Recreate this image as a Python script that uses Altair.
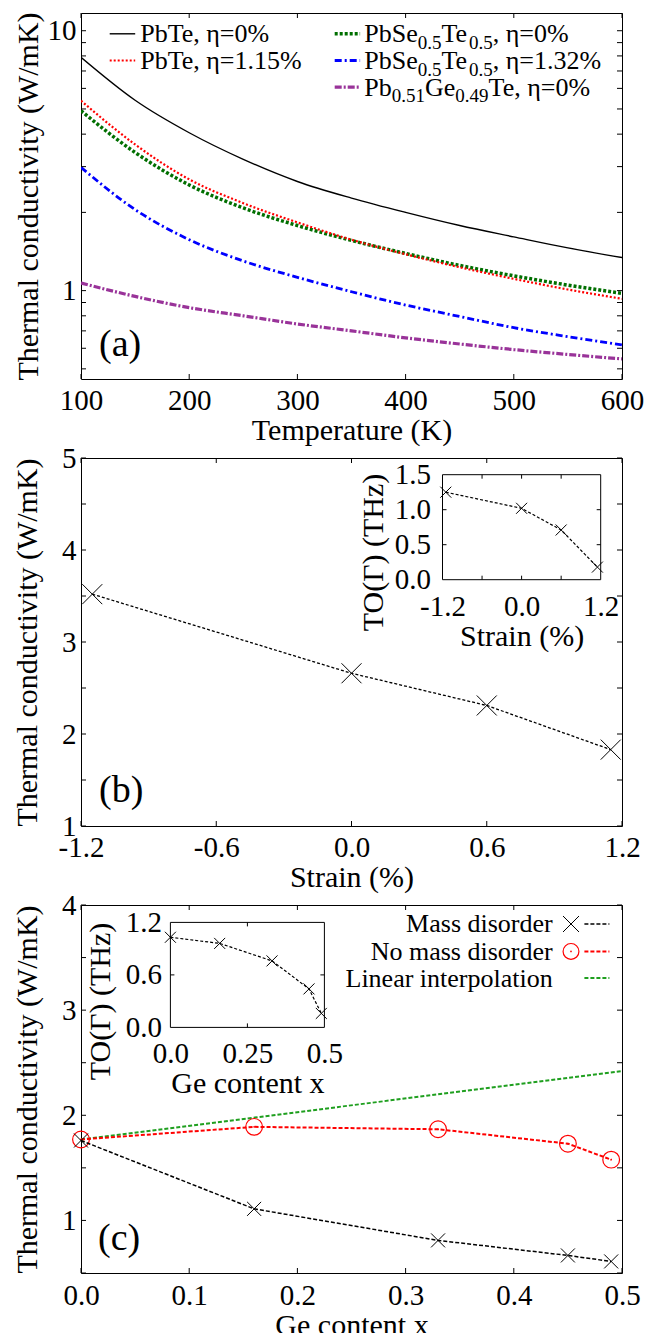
import altair as alt
import pandas as pd

FONT = "Liberation Serif, Times New Roman, Tinos, DejaVu Serif, serif"

# ---------------- data: panel (a) ----------------
temps = [100, 150, 200, 250, 300, 350, 400, 450, 500, 550, 600]
k_pbte_0 = [7.9, 5.4, 4.05, 3.2, 2.63, 2.27, 2.0, 1.78, 1.61, 1.46, 1.34]
k_pbte_115 = [5.38, 3.65, 2.68, 2.17, 1.83, 1.57, 1.38, 1.23, 1.11, 1.01, 0.93]
k_pbsete_0 = [4.92, 3.4, 2.55, 2.08, 1.78, 1.56, 1.39, 1.25, 1.14, 1.05, 0.976]
k_pbsete_132 = [2.98, 2.05, 1.57, 1.3, 1.125, 0.99, 0.88, 0.795, 0.72, 0.665, 0.618]
k_pbgete_0 = [1.07, 0.95, 0.86, 0.8, 0.744, 0.70, 0.658, 0.623, 0.593, 0.568, 0.546]

# ---------------- data: panel (b) ----------------
strain = [-1.15, 0.0, 0.6, 1.15]
k_strain = [3.52, 2.66, 2.31, 1.83]
to_strain = [1.25, 1.02, 0.71, 0.18]

# ---------------- data: panel (c) ----------------
ge_x = [0.0, 0.16, 0.33, 0.45, 0.49]
k_mass = [1.76, 1.11, 0.81, 0.667, 0.61]
k_nomass = [1.77, 1.89, 1.867, 1.73, 1.578]
lin_x = [0.0, 0.5]
k_lin = [1.77, 2.42]
to_ge = [1.03, 0.96, 0.76, 0.44, 0.16]

# tick positions
a_xticks = [100, 200, 300, 400, 500, 600]
a_yticks = [0.5, 0.6, 0.7, 0.8, 0.9, 1, 2, 3, 4, 5, 6, 7, 8, 9, 10]
b_xticks = [-1.2, -0.6, 0.0, 0.6, 1.2]
b_yticks = [1, 1.5, 2, 2.5, 3, 3.5, 4, 4.5, 5]
bi_xticks = [-0.6, 0.0, 0.6]
bi_yticks = [0.5, 1.0]
c_xticks = [0.0, 0.1, 0.2, 0.3, 0.4, 0.5]
c_yticks = [0.5, 1, 1.5, 2, 2.5, 3, 3.5, 4]
ci_xticks = [0.25]
ci_yticks = [0.6]

W = 541
HA, HB, HC = 366, 368, 368
TL = 5
XPATH = "M-1,-1L1,1M-1,1L1,-1"
ONE = pd.DataFrame({"k": [0]})
MINUS = "replace(format(datum.value, '.1f'), '\u2212', '-')"

TW = {'P': 556, 'b': 500, 'T': 611, 'e': 444, 'S': 556, 'G': 722, ',': 250,
      ' ': 250, '=': 564, '%': 833, '.': 250}


def tw(s, size):
    return sum(TW.get(c, 500) for c in s) / 1000.0 * size


def txt(s, x, y, size, align="left", baseline="alphabetic", color="black"):
    return alt.Chart(ONE).mark_text(text=s, font=FONT, fontSize=size, align=align,
                                    baseline=baseline, color=color).encode(
        x=alt.value(x), y=alt.value(y))


def rich(pieces, x, y, size=26, sub=19, drop=6.5):
    out = []
    for s, is_sub in pieces:
        fs = sub if is_sub else size
        out.append(txt(s, x, y + (drop if is_sub else 0), fs))
        x += tw(s, fs)
    return out


def sample(x1, x2, y, color, width, dash=None):
    kw = dict(color=color, strokeWidth=width)
    if dash:
        kw["strokeDash"] = dash
    return alt.Chart(ONE).mark_rule(**kw).encode(x=alt.value(x1), x2=alt.value(x2), y=alt.value(y))


def ticks(xvals, yvals, xsc, ysc, xax, yax, box, L=TL):
    left, right, top, bottom = box
    out = []
    dx = pd.DataFrame({"v": xvals})
    dy = pd.DataFrame({"v": yvals})
    if xvals:
        out.append(alt.Chart(dx).mark_rule(color="black", strokeWidth=1).encode(
            x=alt.X("v:Q", scale=xsc, axis=xax), y=alt.value(bottom), y2=alt.value(bottom - L)))
        out.append(alt.Chart(dx).mark_rule(color="black", strokeWidth=1).encode(
            x=alt.X("v:Q", scale=xsc, axis=xax), y=alt.value(top), y2=alt.value(top + L)))
    if yvals:
        out.append(alt.Chart(dy).mark_rule(color="black", strokeWidth=1).encode(
            y=alt.Y("v:Q", scale=ysc, axis=yax), x=alt.value(left), x2=alt.value(left + L)))
        out.append(alt.Chart(dy).mark_rule(color="black", strokeWidth=1).encode(
            y=alt.Y("v:Q", scale=ysc, axis=yax), x=alt.value(right), x2=alt.value(right - L)))
    return out


def line(xs, ys, xsc, ysc, xax, yax, **mk):
    d = pd.DataFrame({"x": xs, "y": ys})
    return alt.Chart(d).mark_line(**mk).encode(
        x=alt.X("x:Q", scale=xsc, axis=xax), y=alt.Y("y:Q", scale=ysc, axis=yax))


def pts(xs, ys, xsc, ysc, xax, yax, **mk):
    d = pd.DataFrame({"x": xs, "y": ys})
    return alt.Chart(d).mark_point(opacity=1, **mk).encode(
        x=alt.X("x:Q", scale=xsc, axis=xax), y=alt.Y("y:Q", scale=ysc, axis=yax))


def frame(xd, yd, xsc, ysc, xax, yax):
    d = pd.DataFrame({"x0": [xd[0]], "x1": [xd[1]], "y0": [yd[0]], "y1": [yd[1]]})
    return alt.Chart(d).mark_rect(fillOpacity=0, stroke="black", strokeWidth=1).encode(
        x=alt.X("x0:Q", scale=xsc, axis=xax), x2="x1",
        y=alt.Y("y0:Q", scale=ysc, axis=yax), y2="y1")


# ================= panel (a) =================
xa = alt.Scale(domain=[100, 600], nice=False, zero=False)
ya = alt.Scale(type="log", domain=[0.457, 11.7], nice=False)
ax_xa = alt.Axis(values=a_xticks, format="d", title="Temperature (K)", ticks=False, domain=False,
                 grid=False, labelPadding=7, titlePadding=0, labelFlush=False)
ax_ya = alt.Axis(values=[1, 10], format="d", title="Thermal conductivity (W/mK)", ticks=False,
                 domain=False, grid=False, labelPadding=5, titlePadding=4, labelFlush=False)
A = (xa, ya, ax_xa, ax_ya)

a_layers = [
    line(temps, k_pbgete_0, *A, color="#993399", strokeWidth=3.2,
         strokeDash=[7, 2, 2, 2], interpolate="monotone", clip=True),
    line(temps, k_pbsete_132, *A, color="#0000ff", strokeWidth=2.8,
         strokeDash=[7, 3, 2, 3], interpolate="monotone", clip=True),
    line(temps, k_pbsete_0, *A, color="#006f00", strokeWidth=3.5,
         strokeDash=[3, 2], interpolate="monotone", clip=True),
    line(temps, k_pbte_115, *A, color="#ff0000", strokeWidth=2.2,
         strokeDash=[2, 2], interpolate="monotone", clip=True),
    line(temps, k_pbte_0, *A, color="black", strokeWidth=1.4,
         interpolate="monotone", clip=True),
]
a_layers += ticks(a_xticks, a_yticks, *A, (0, W, 0, HA))
# legend
a_layers += [
    sample(28.7, 54.2, 20.8, "black", 1.4),
    sample(28.7, 54.2, 47.5, "#ff0000", 2.2, [2, 2]),
    sample(253.7, 279.1, 20.8, "#006f00", 3.5, [3, 2]),
    sample(253.7, 279.1, 47.5, "#0000ff", 2.8, [7, 3, 2, 3]),
    sample(253.7, 279.1, 74.2, "#993399", 3.2, [7, 2, 2, 2]),
    txt("PbTe, \u03b7=0%", 59.2, 29.3, 26),
    txt("PbTe, \u03b7=1.15%", 59.2, 56.0, 26),
]
a_layers += rich([("PbSe", 0), ("0.5", 1), ("Te", 0), ("0.5", 1), (", \u03b7=0%", 0)], 283.3, 29.3)
a_layers += rich([("PbSe", 0), ("0.5", 1), ("Te", 0), ("0.5", 1), (", \u03b7=1.32%", 0)], 283.3, 56.0)
a_layers += rich([("Pb", 0), ("0.51", 1), ("Ge", 0), ("0.49", 1), ("Te, \u03b7=0%", 0)], 283.3, 82.7)
a_layers.append(txt("(a)", 18, 332, 38, baseline="middle"))
panel_a = alt.layer(*a_layers).properties(width=W, height=HA)

# ================= panel (b) =================
xb = alt.Scale(domain=[-1.2, 1.2], nice=False, zero=False)
yb = alt.Scale(domain=[1, 5], nice=False, zero=False)
ax_xb = alt.Axis(values=b_xticks, labelExpr=MINUS, title="Strain (%)", ticks=False, domain=False,
                 grid=False, labelPadding=7, titlePadding=0, labelFlush=False)
ax_yb = alt.Axis(values=[1, 2, 3, 4, 5], format="d", title="Thermal conductivity (W/mK)", ticks=False,
                 domain=False, grid=False, labelPadding=5, titlePadding=19, labelFlush=False)
B = (xb, yb, ax_xb, ax_yb)
b_main = [
    line(strain, k_strain, *B, color="black", strokeWidth=1.3, strokeDash=[3, 2]),
    pts(strain, k_strain, *B, shape=XPATH, size=400, color="black", strokeWidth=1, filled=False),
]
b_main += ticks(b_xticks, b_yticks, *B, (0, W, 0, HB))
b_main.append(txt("(b)", 18, 333, 38, baseline="middle"))

BI = (361.5, 519.7, 16.7, 121.7)
xbi = alt.Scale(domain=[-1.2, 1.2], range=[BI[0], BI[1]], nice=False, zero=False)
ybi = alt.Scale(domain=[0, 1.5], range=[BI[3], BI[2]], nice=False, zero=False)
ax_xbi = alt.Axis(orient="bottom", offset=-(HB - BI[3]), values=[-1.2, 0.0, 1.2], labelExpr=MINUS,
                  title="Strain (%)", ticks=False, domain=False, grid=False, labelPadding=13,
                  titlePadding=0, labelFlush=False)
ax_ybi = alt.Axis(orient="left", offset=-BI[0], values=[0, 0.5, 1.0, 1.5], format=".1f",
                  title="TO(\u0393) (THz)", ticks=False, domain=False, grid=False, labelPadding=12,
                  titlePadding=6, titleY=94, labelFlush=False)
BIN = (xbi, ybi, ax_xbi, ax_ybi)
b_inset = [
    line(strain, to_strain, *BIN, color="black", strokeWidth=1.2, strokeDash=[3, 2]),
    pts(strain, to_strain, *BIN, shape=XPATH, size=121, color="black", strokeWidth=1, filled=False),
    frame([-1.2, 1.2], [0, 1.5], *BIN),
]
b_inset += ticks(bi_xticks, bi_yticks, *BIN, BI, L=4)
panel_b = alt.layer(alt.layer(*b_main), alt.layer(*b_inset)).resolve_scale(
    x="independent", y="independent").properties(width=W, height=HB)

# ================= panel (c) =================
xc = alt.Scale(domain=[0, 0.5], nice=False, zero=False)
yc = alt.Scale(domain=[0.5, 4], nice=False, zero=False)
ax_xc = alt.Axis(values=c_xticks, format=".1f", title="Ge content x", ticks=False, domain=False,
                 grid=False, labelPadding=8, titlePadding=0, labelFlush=False)
ax_yc = alt.Axis(values=[1, 2, 3, 4], format="d", title="Thermal conductivity (W/mK)", ticks=False,
                 domain=False, grid=False, labelPadding=5, titlePadding=19, labelFlush=False)
C = (xc, yc, ax_xc, ax_yc)
GREEN = "#1f9f1f"
c_main = [
    line(lin_x, k_lin, *C, color=GREEN, strokeWidth=2, strokeDash=[4, 2]),
    line(ge_x, k_nomass, *C, color="#ff0000", strokeWidth=2, strokeDash=[4, 2]),
    pts(ge_x, k_nomass, *C, shape="circle", size=280, color="#ff0000", strokeWidth=1.2, filled=False),
    pts(ge_x, k_nomass, *C, shape="circle", size=3, color="#ff0000", filled=True),
    line(ge_x, k_mass, *C, color="black", strokeWidth=1.5, strokeDash=[4, 2]),
    pts(ge_x, k_mass, *C, shape=XPATH, size=196, color="black", strokeWidth=1, filled=False),
]
c_main += ticks(c_xticks, c_yticks, *C, (0, W, 0, HC))
c_main += [
    txt("Mass disorder", 471.7, 27.4, 26, align="right"),
    txt("No mass disorder", 471.7, 54.7, 26, align="right"),
    txt("Linear interpolation", 471.7, 82.4, 26, align="right"),
    alt.Chart(ONE).mark_point(shape=XPATH, size=256, color="black", strokeWidth=1, filled=False,
                              opacity=1).encode(x=alt.value(490), y=alt.value(19)),
    alt.Chart(ONE).mark_point(shape="circle", size=250, color="#ff0000", strokeWidth=1.2, filled=False,
                              opacity=1).encode(x=alt.value(490), y=alt.value(46.4)),
    alt.Chart(ONE).mark_point(shape="circle", size=3, color="#ff0000", filled=True,
                              opacity=1).encode(x=alt.value(490), y=alt.value(46.4)),
    sample(503.4, 528.4, 19, "black", 1.5, [4, 2]),
    sample(503.4, 528.4, 46.4, "#ff0000", 2, [4, 2]),
    sample(503.4, 528.4, 73, GREEN, 2, [4, 2]),
    txt("(c)", 17, 334, 38, baseline="middle"),
]

CI = (89.4, 243.4, 17.4, 122.4)
xci = alt.Scale(domain=[0, 0.5], range=[CI[0], CI[1]], nice=False, zero=False)
yci = alt.Scale(domain=[0, 1.2], range=[CI[3], CI[2]], nice=False, zero=False)
ax_xci = alt.Axis(orient="bottom", offset=-(HC - CI[3]), values=[0, 0.25, 0.5],
                  labelExpr="datum.value == 0 ? '0.0' : toString(datum.value)",
                  title="Ge content x", ticks=False, domain=False, grid=False, labelPadding=12,
                  titlePadding=0, labelFlush=False)
ax_yci = alt.Axis(orient="left", offset=-CI[0], values=[0, 0.6, 1.2], format=".1f",
                  title="TO(\u0393) (THz)", ticks=False, domain=False, grid=False, labelPadding=9,
                  titlePadding=10, titleY=96, labelFlush=False)
CIN = (xci, yci, ax_xci, ax_yci)
c_inset = [
    line(ge_x, to_ge, *CIN, color="black", strokeWidth=1.2, strokeDash=[3, 2]),
    pts(ge_x, to_ge, *CIN, shape=XPATH, size=121, color="black", strokeWidth=1, filled=False),
    frame([0, 0.5], [0, 1.2], *CIN),
]
c_inset += ticks(ci_xticks, ci_yticks, *CIN, CI, L=4)
panel_c = alt.layer(alt.layer(*c_main), alt.layer(*c_inset)).resolve_scale(
    x="independent", y="independent").properties(width=W, height=HC)

chart = alt.vconcat(panel_a, panel_b, panel_c, spacing=79, bounds="flush").properties(
    padding={"left": 4, "top": 3, "right": 5, "bottom": 5}
).configure_view(stroke="black", strokeWidth=1).configure_axis(
    labelFont=FONT, labelFontSize=29, labelColor="black",
    titleFont=FONT, titleFontSize=30, titleFontWeight="normal", titleColor="black"
)

chart.save("out.html", embed_options={"renderer": "svg", "actions": False})
